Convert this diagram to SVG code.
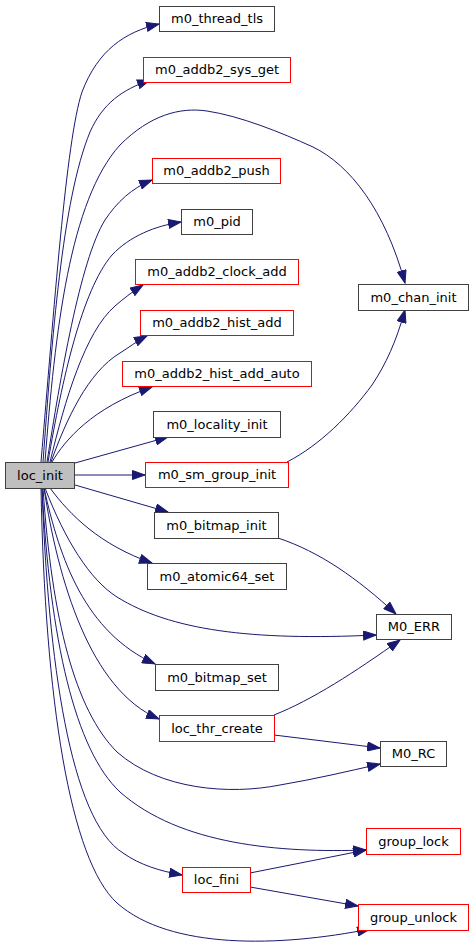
<svg xmlns="http://www.w3.org/2000/svg" width="473" height="952" viewBox="0 0 473 952">
<style>
.n rect{fill:#fff;stroke:#404040;stroke-width:1}
.r rect{stroke:#ff0000}
.g rect{fill:#bfbfbf}
text{font-family:"DejaVu Sans","Liberation Sans",sans-serif;font-size:13px;fill:#000;text-anchor:middle}
.e path{fill:none;stroke:#191970;stroke-width:1;marker-end:url(#ah)}
</style>
<defs>
<marker id="ah" markerUnits="userSpaceOnUse" markerWidth="14" markerHeight="10" refX="13" refY="5" orient="auto" viewBox="0 0 14 10">
<path d="M0.5,0.5 L13,5 L0.5,9.5 Z" fill="#191970" stroke="#191970" stroke-width="1"/>
</marker>
</defs>
<rect width="473" height="952" fill="#fff"/>
<g id="edges" class="e">
<path d="M41,462 C54,310 66,140 82,92 C98,50 125,32 159,24"/>
<path d="M43,462 C52,340 62,200 90,132 C103,103 122,90 150,80"/>
<path d="M45,462 C55,330 70,200 120,145 C150,115 180,107 207,111 C240,116 280,132 313,147 C350,165 385,210 405,283"/>
<path d="M47,462 C60,380 80,260 105,220 C117,202 132,188 152,180"/>
<path d="M48,462 C62,380 82,290 112,255 C130,236 155,226 181,222"/>
<path d="M50,462 C65,400 85,332 115,306 C123,299 132,292 143,285"/>
<path d="M51,462 C66,420 88,372 120,353 C128,348 137,341 147,336"/>
<path d="M52,462 C65,440 92,408 152,387"/>
<path d="M75,463 L168,437"/>
<path d="M74,475 L145,475"/>
<path d="M75,485 L168,512"/>
<path d="M50,488 C70,515 100,545 152,563"/>
<path d="M45,488 C65,540 90,580 117,597 C170,630 250,641 376,635"/>
<path d="M44,488 C60,560 85,632 155,664"/>
<path d="M44,488 C58,580 90,690 159,719"/>
<path d="M43,488 C52,620 75,710 117,752 C160,790 230,795 280,785 C315,779 345,772 380,764"/>
<path d="M42,488 C50,640 75,750 120,792 C180,845 280,853 366,850"/>
<path d="M42,488 C48,660 70,820 123,853 C140,865 160,871 182,875"/>
<path d="M41,488 C45,700 70,860 117,903 C170,950 280,947 370,929"/>
<path d="M287,462 C320,445 350,415 372,385 C386,364 396,342 405,310"/>
<path d="M278,538 C320,552 357,578 396,614"/>
<path d="M274,715 C312,700 355,672 400,640"/>
<path d="M274,735 L380,748"/>
<path d="M250,873 L366,850"/>
<path d="M250,887 L358,906"/>
</g>
<g id="loc_init" class="n g"><rect x="5.5" y="462.5" width="69" height="26"/><text x="40" y="480">loc_init</text></g>
<g id="m0_thread_tls" class="n"><rect x="159.5" y="6.5" width="115" height="25"/><text x="217" y="23">m0_thread_tls</text></g>
<g id="m0_addb2_sys_get" class="n r"><rect x="143.5" y="57.5" width="147" height="25"/><text x="217" y="74">m0_addb2_sys_get</text></g>
<g id="m0_addb2_push" class="n r"><rect x="152.5" y="158.5" width="128" height="25"/><text x="216.5" y="175">m0_addb2_push</text></g>
<g id="m0_pid" class="n"><rect x="181.5" y="209.5" width="71" height="25"/><text x="217" y="226">m0_pid</text></g>
<g id="m0_addb2_clock_add" class="n r"><rect x="135.5" y="259.5" width="163" height="25"/><text x="217" y="276">m0_addb2_clock_add</text></g>
<g id="m0_addb2_hist_add" class="n r"><rect x="140.5" y="310.5" width="153" height="25"/><text x="217" y="327">m0_addb2_hist_add</text></g>
<g id="m0_addb2_hist_add_auto" class="n r"><rect x="122.5" y="361.5" width="189" height="25"/><text x="217" y="378">m0_addb2_hist_add_auto</text></g>
<g id="m0_locality_init" class="n"><rect x="153.5" y="411.5" width="127" height="26"/><text x="217" y="429">m0_locality_init</text></g>
<g id="m0_sm_group_init" class="n r"><rect x="145.5" y="462.5" width="143" height="25"/><text x="217" y="479">m0_sm_group_init</text></g>
<g id="m0_bitmap_init" class="n"><rect x="154.5" y="512.5" width="124" height="26"/><text x="216.5" y="530">m0_bitmap_init</text></g>
<g id="m0_atomic64_set" class="n"><rect x="147.5" y="563.5" width="139" height="26"/><text x="217" y="581">m0_atomic64_set</text></g>
<g id="m0_bitmap_set" class="n"><rect x="155.5" y="664.5" width="123" height="26"/><text x="217" y="682">m0_bitmap_set</text></g>
<g id="loc_thr_create" class="n r"><rect x="159.5" y="715.5" width="115" height="26"/><text x="217" y="733">loc_thr_create</text></g>
<g id="loc_fini" class="n r"><rect x="182.5" y="867.5" width="68" height="25"/><text x="216.5" y="884">loc_fini</text></g>
<g id="m0_chan_init" class="n"><rect x="358.5" y="284.5" width="110" height="26"/><text x="413.5" y="302">m0_chan_init</text></g>
<g id="M0_ERR" class="n"><rect x="376.5" y="614.5" width="75" height="25"/><text x="414" y="631">M0_ERR</text></g>
<g id="M0_RC" class="n"><rect x="380.5" y="741.5" width="66" height="25"/><text x="413.5" y="758">M0_RC</text></g>
<g id="group_lock" class="n r"><rect x="366.5" y="828.5" width="94" height="26"/><text x="413.5" y="846">group_lock</text></g>
<g id="group_unlock" class="n r"><rect x="358.5" y="904.5" width="110" height="26"/><text x="413.5" y="922">group_unlock</text></g>
</svg>
